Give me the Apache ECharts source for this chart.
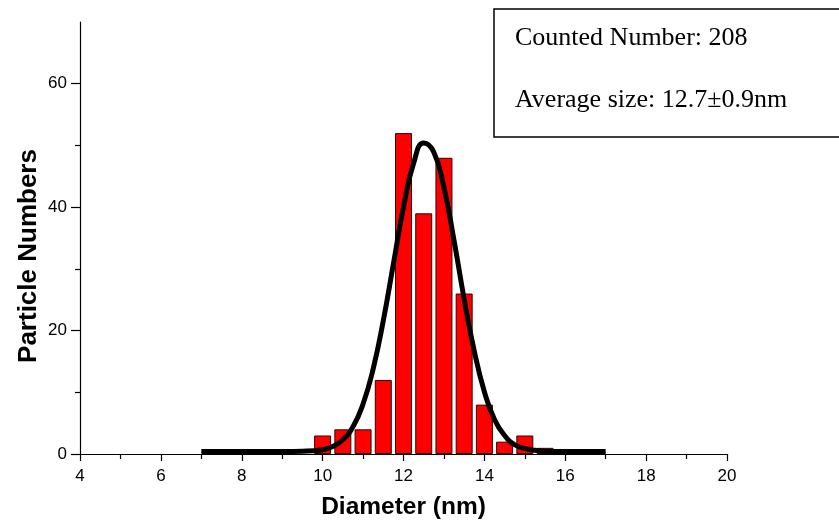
<!DOCTYPE html>
<html>
<head>
<meta charset="utf-8">
<script src="https://cdn.jsdelivr.net/npm/echarts@6/dist/echarts.min.js"></script>
<style>
html, body { margin: 0; padding: 0; background: #fff; }
#main { width: 839px; height: 525px; }
</style>
</head>
<body>
<div id="main"></div>
<script>
// histogram bins (nm) and counts
var binCenters = [10, 10.5, 11, 11.5, 12, 12.5, 13, 13.5, 14, 14.5, 15, 15.5];
var binCounts = [3, 4, 4, 12, 52, 39, 48, 26, 8, 2, 3, 1];

// fitted curve
var curveX = [7, 8, 9, 9.5, 10, 10.25, 10.5, 10.75, 11, 11.25, 11.5, 11.75, 12, 12.25, 12.5, 12.75, 13, 13.25, 13.5, 13.75, 14, 14.25, 14.5, 14.75, 15, 15.25, 15.5, 16, 17];
var curveY = [0.4, 0.4, 0.4, 0.45, 0.7, 1.2, 2.3, 4.4, 8.1, 13.8, 21.6, 30.8, 40.0, 47.1, 50.4, 48.9, 43.2, 34.6, 25.1, 16.7, 10.1, 5.6, 3.0, 1.5, 0.9, 0.6, 0.45, 0.4, 0.4];

var xMajor = [4, 6, 8, 10, 12, 14, 16, 18, 20];
var yMajor = [0, 20, 40, 60];
var yMinor = [10, 30, 50];

var infoLines = ['Counted Number: 208', 'Average size: 12.7\u00b10.9nm'];

var chart = echarts.init(document.getElementById('main'));

var barData = binCenters.map(function(x, i) { return [x, binCounts[i]] });
var curveData = curveX.map(function(x, i) { return [x, curveY[i]] });

var labelFont = { color: '#000', fontFamily: 'Liberation Sans', fontSize: 17 };
var axisLine = { color: '#000', width: 1.2 };

chart.setOption({
    animation: false,
    grid: { left: 80, right: 112, top: 22, bottom: 70, containLabel: false },
    xAxis: {
        type: 'value',
        min: 4,
        max: 20,
        interval: 2,
        name: 'Diameter (nm)',
        nameLocation: 'middle',
        nameGap: 41,
        nameTextStyle: { color: '#000', fontFamily: 'Liberation Sans', fontSize: 24.5, fontWeight: 'bold' },
        splitLine: { show: false },
        axisLine: { onZero: false, lineStyle: axisLine },
        axisTick: { inside: false, length: 7, lineStyle: axisLine },
        minorTick: { show: true, splitNumber: 2, length: 5, lineStyle: axisLine },
        axisLabel: Object.assign({ margin: 14, customValues: xMajor }, labelFont)
    },
    yAxis: [{
        type: 'value',
        min: 0,
        max: 70,
        interval: 20,
        splitLine: { show: false },
        axisLine: { show: true, lineStyle: axisLine },
        axisTick: { show: true, length: 9, customValues: yMajor, lineStyle: axisLine },
        axisLabel: Object.assign({ margin: 13, customValues: yMajor }, labelFont)
    }, {
        type: 'value',
        min: 0,
        max: 70,
        position: 'left',
        splitLine: { show: false },
        axisLine: { show: false },
        axisTick: { show: true, length: 5, customValues: yMinor, lineStyle: axisLine },
        axisLabel: { show: false }
    }],
    series: [{
        type: 'bar',
        data: barData,
        barWidth: 17,
        itemStyle: { color: '#ff0000', borderColor: '#3a0000', borderWidth: 1 },
        z: 2
    }, {
        type: 'line',
        data: curveData,
        smooth: true,
        symbol: 'none',
        lineStyle: { color: '#000', width: 5 },
        z: 3
    }],
    graphic: [{
        type: 'text',
        x: 29,
        y: 256,
        rotation: Math.PI / 2,
        style: { text: 'Particle Numbers', fill: '#000', font: 'bold 26px "Liberation Sans"', align: 'center', verticalAlign: 'middle' }
    }, {
        type: 'rect',
        shape: { x: 494, y: 9, width: 360, height: 128 },
        style: { fill: '#fff', stroke: '#000', lineWidth: 1.5 }
    }, {
        type: 'text',
        x: 515,
        y: 38,
        style: { text: infoLines[0], fill: '#000', font: '26px "Liberation Serif"', verticalAlign: 'middle' }
    }, {
        type: 'text',
        x: 515,
        y: 100,
        style: { text: infoLines[1], fill: '#000', font: '26px "Liberation Serif"', verticalAlign: 'middle' }
    }]
});
</script>
</body>
</html>
